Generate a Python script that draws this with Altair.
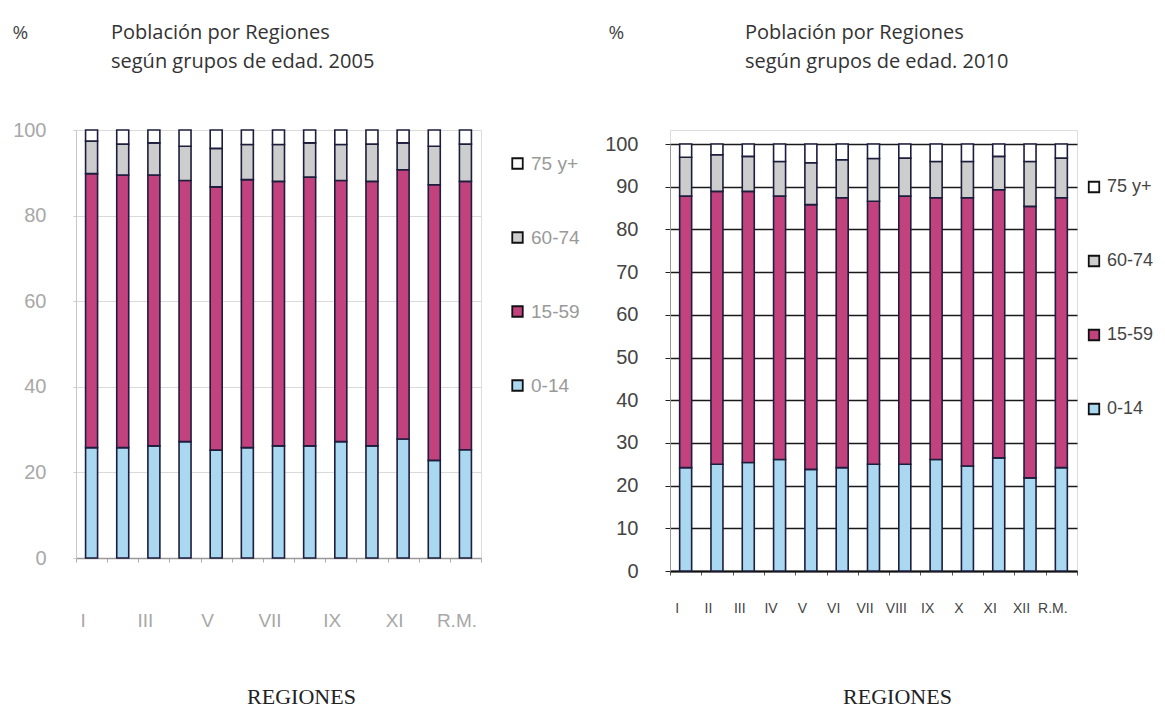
import altair as alt
import pandas as pd

regions = ["I", "II", "III", "IV", "V", "VI", "VII", "VIII", "IX", "X", "XI", "XII", "R.M."]
groups = ["75 y+", "60-74", "15-59", "0-14"]
group_colors = ["#ffffff", "#cdcdcd", "#c2427e", "#a9d8f0"]
stack_rank = {"0-14": 1, "15-59": 2, "60-74": 3, "75 y+": 4}

# 2005 shares (%)
p2005_0_14 = [25.8, 25.8, 26.2, 27.2, 25.2, 25.8, 26.2, 26.2, 27.2, 26.2, 27.8, 22.8, 25.3]
p2005_15_59 = [64.0, 63.7, 63.3, 61.0, 61.5, 62.6, 61.8, 62.8, 61.0, 61.8, 62.9, 64.4, 62.7]
p2005_60_74 = [7.6, 7.2, 7.5, 8.0, 9.0, 8.2, 8.6, 8.0, 8.4, 8.7, 6.3, 9.0, 8.7]
p2005_75 = [2.6, 3.3, 3.0, 3.8, 4.3, 3.4, 3.4, 3.0, 3.4, 3.3, 3.0, 3.8, 3.3]

# 2010 shares (%)
p2010_0_14 = [24.2, 25.0, 25.4, 26.1, 23.8, 24.2, 25.0, 25.0, 26.1, 24.6, 26.5, 21.8, 24.2]
p2010_15_59 = [63.6, 63.9, 63.5, 61.7, 62.0, 63.2, 61.6, 62.8, 61.3, 62.8, 62.8, 63.6, 63.2]
p2010_60_74 = [9.1, 8.6, 8.2, 8.1, 9.8, 8.9, 10.0, 8.9, 8.5, 8.5, 7.8, 10.5, 9.3]
p2010_75 = [3.1, 2.5, 2.9, 4.1, 4.4, 3.7, 3.4, 3.3, 4.1, 4.1, 2.9, 4.1, 3.3]

title_2005 = ["Población por Regiones", "según grupos de edad. 2005"]
title_2010 = ["Población por Regiones", "según grupos de edad. 2010"]
left_labels_shown = ["I", "III", "V", "VII", "IX", "XI", "R.M."]


def long_table(a, b, c, d):
    rows = []
    for i, r in enumerate(regions):
        for g, v in (("0-14", a[i]), ("15-59", b[i]), ("60-74", c[i]), ("75 y+", d[i])):
            rows.append({"region": r, "grupo": g, "pct": v, "ord": stack_rank[g]})
    return pd.DataFrame(rows)


df05 = long_table(p2005_0_14, p2005_15_59, p2005_60_74, p2005_75)
df10 = long_table(p2010_0_14, p2010_15_59, p2010_60_74, p2010_75)

SANS = "Liberation Sans"
shown_expr = "indexof(" + str(left_labels_shown).replace("'", '"') + ", datum.value) >= 0 ? datum.label : ''"

left = alt.Chart(df05).mark_bar(width=12, stroke="#1d1d3d", strokeWidth=1.6).encode(
    x=alt.X("region:N", sort=regions, scale=alt.Scale(paddingInner=0, paddingOuter=0),
            axis=alt.Axis(title="REGIONES", titleFont="Liberation Serif", titleFontSize=22,
                          titleFontWeight="normal", titleColor="#222", titleX=225, titleY=138,
                          titleBaseline="middle", titleAlign="center",
                          labelAngle=0, labelFont=SANS, labelFontSize=19, labelColor="#a8a8a8",
                          labelPadding=49, labelOffset=-9, labelExpr=shown_expr,
                          tickBand="extent", tickSize=4, tickColor="#aaa",
                          domainColor="#999", domainWidth=1.5, grid=False)),
    y=alt.Y("pct:Q", stack="zero", scale=alt.Scale(domain=[0, 100], nice=False),
            axis=alt.Axis(values=[0, 20, 40, 60, 80, 100], title="%", titleAngle=0,
                          titleX=-64, titleY=-92, titleAlign="left", titleBaseline="alphabetic",
                          titleFont="Open Sans", titleFontSize=19, titleFontWeight="normal",
                          titleColor="#444",
                          labelFont=SANS, labelFontSize=20, labelColor="#a8a8a8",
                          labelPadding=27, tickSize=3, tickColor="#ccc",
                          domainColor="#c8c8c8", gridColor="#dadada", gridWidth=1)),
    color=alt.Color("grupo:N", scale=alt.Scale(domain=groups, range=group_colors),
                    legend=alt.Legend(title=None, orient="none", legendX=432, legendY=24,
                                      symbolType="square", symbolSize=110, symbolStrokeColor="#111",
                                      symbolStrokeWidth=1.8, labelFont=SANS, labelFontSize=19,
                                      labelColor="#999", rowPadding=54, labelOffset=4, padding=0)),
    order=alt.Order("ord:Q", sort="ascending"),
).properties(
    width=405, height=428,
    title=alt.TitleParams(text=title_2005, anchor="start", frame="group", dx=35, offset=-49,
                          font="Open Sans", fontSize=20, fontWeight="normal", color="#333",
                          lineHeight=29),
)

right = alt.Chart(df10).mark_bar(width=12, stroke="#1d1d3d", strokeWidth=1.6).encode(
    x=alt.X("region:N", sort=regions, scale=alt.Scale(paddingInner=0, paddingOuter=0),
            axis=alt.Axis(title="REGIONES", titleFont="Liberation Serif", titleFontSize=22,
                          titleFontWeight="normal", titleColor="#222", titleX=227, titleY=125,
                          titleBaseline="middle", titleAlign="center",
                          labelAngle=0, labelFont=SANS, labelFontSize=14, labelColor="#444",
                          labelPadding=26, labelOffset=-9,
                          tickBand="extent", tickSize=4, tickColor="#555",
                          domainColor="#111", domainWidth=2, grid=False)),
    y=alt.Y("pct:Q", stack="zero", scale=alt.Scale(domain=[0, 100], nice=False, range=[441, 14]),
            axis=alt.Axis(values=list(range(0, 101, 10)), title="%", titleAngle=0,
                          titleX=-62, titleY=-92, titleAlign="left", titleBaseline="alphabetic",
                          titleFont="Open Sans", titleFontSize=19, titleFontWeight="normal",
                          titleColor="#444",
                          labelFont=SANS, labelFontSize=20, labelColor="#444",
                          labelPadding=27, tickSize=5, tickColor="#222",
                          domainColor="#999", gridColor="#1a1a1a", gridWidth=1.5)),
    color=alt.Color("grupo:N", scale=alt.Scale(domain=groups, range=group_colors),
                    legend=alt.Legend(title=None, orient="none", legendX=415, legendY=48,
                                      symbolType="square", symbolSize=110, symbolStrokeColor="#111",
                                      symbolStrokeWidth=1.8, labelFont=SANS, labelFontSize=18,
                                      labelColor="#444", rowPadding=56, labelOffset=4, padding=0)),
    order=alt.Order("ord:Q", sort="ascending"),
).properties(
    width=407, height=441,
    title=alt.TitleParams(text=title_2010, anchor="start", frame="group", dx=75, offset=-49,
                          font="Open Sans", fontSize=20, fontWeight="normal", color="#333",
                          lineHeight=29),
)

chart = alt.hconcat(left, right, spacing=23).resolve_scale(
    color="independent", x="independent", y="independent"
).resolve_legend(color="independent").properties(
    padding={"left": 3, "top": 14, "right": 0, "bottom": 0}
).configure_view(stroke=None).configure(background="white")

chart.save("out.html", embed_options={"renderer": "svg", "actions": False})
